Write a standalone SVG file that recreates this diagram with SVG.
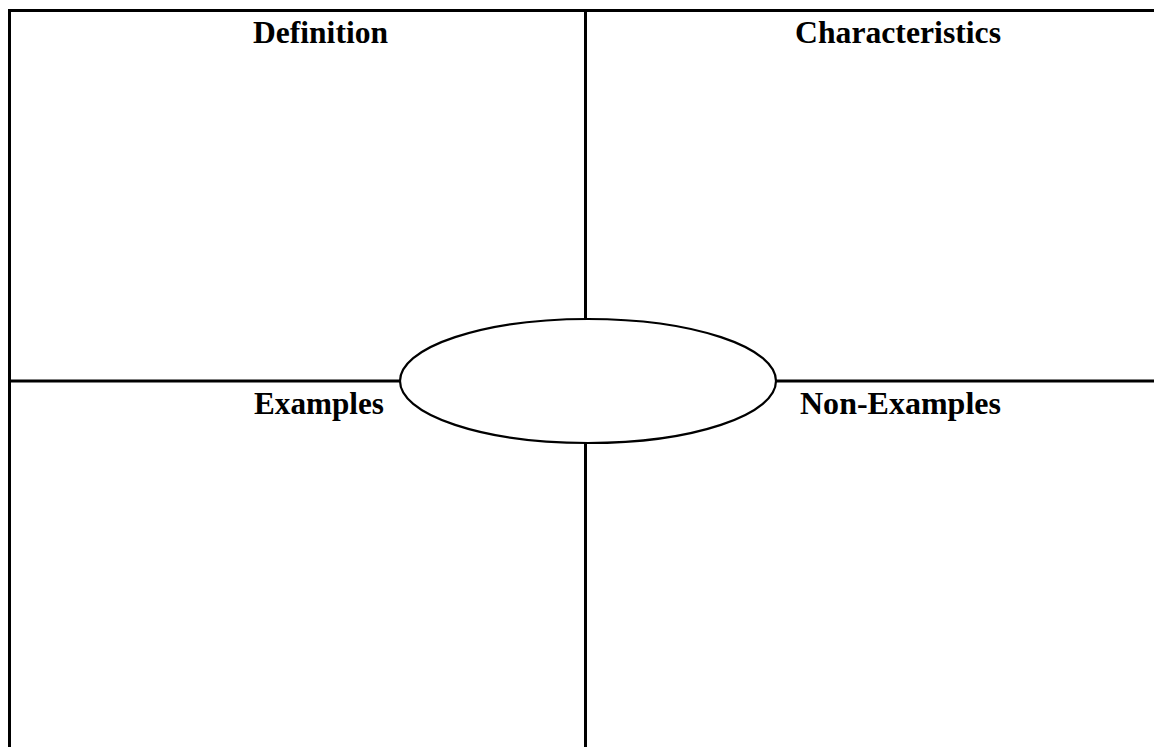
<svg xmlns="http://www.w3.org/2000/svg" width="1154" height="747" viewBox="0 0 1154 747">
<style>
.ln{stroke:#000;stroke-width:3;fill:none}
.lbl{font-family:"Liberation Serif","Times New Roman",serif;font-weight:bold;font-size:31px;fill:#000}
</style>
<rect width="1154" height="747" fill="#fff"/>
<g id="connectors">
<line class="ln" x1="8" y1="10.5" x2="1154" y2="10.5"/>
<line class="ln" x1="9.5" y1="9" x2="9.5" y2="747"/>
<line class="ln" x1="585.5" y1="9" x2="585.5" y2="747"/>
<line class="ln" x1="8" y1="381" x2="1154" y2="381"/>
</g>
<g id="center">
<ellipse cx="588" cy="381" rx="188" ry="62" fill="#fff" stroke="#000" stroke-width="2.2"/>
</g>
<g id="definition"><text class="lbl" x="253" y="43" textLength="135" lengthAdjust="spacingAndGlyphs">Definition</text></g>
<g id="characteristics"><text class="lbl" x="795" y="43" textLength="206" lengthAdjust="spacingAndGlyphs">Characteristics</text></g>
<g id="examples"><text class="lbl" x="254" y="414" textLength="130" lengthAdjust="spacingAndGlyphs">Examples</text></g>
<g id="non-examples"><text class="lbl" x="800" y="414" textLength="201" lengthAdjust="spacingAndGlyphs">Non-Examples</text></g>
</svg>
